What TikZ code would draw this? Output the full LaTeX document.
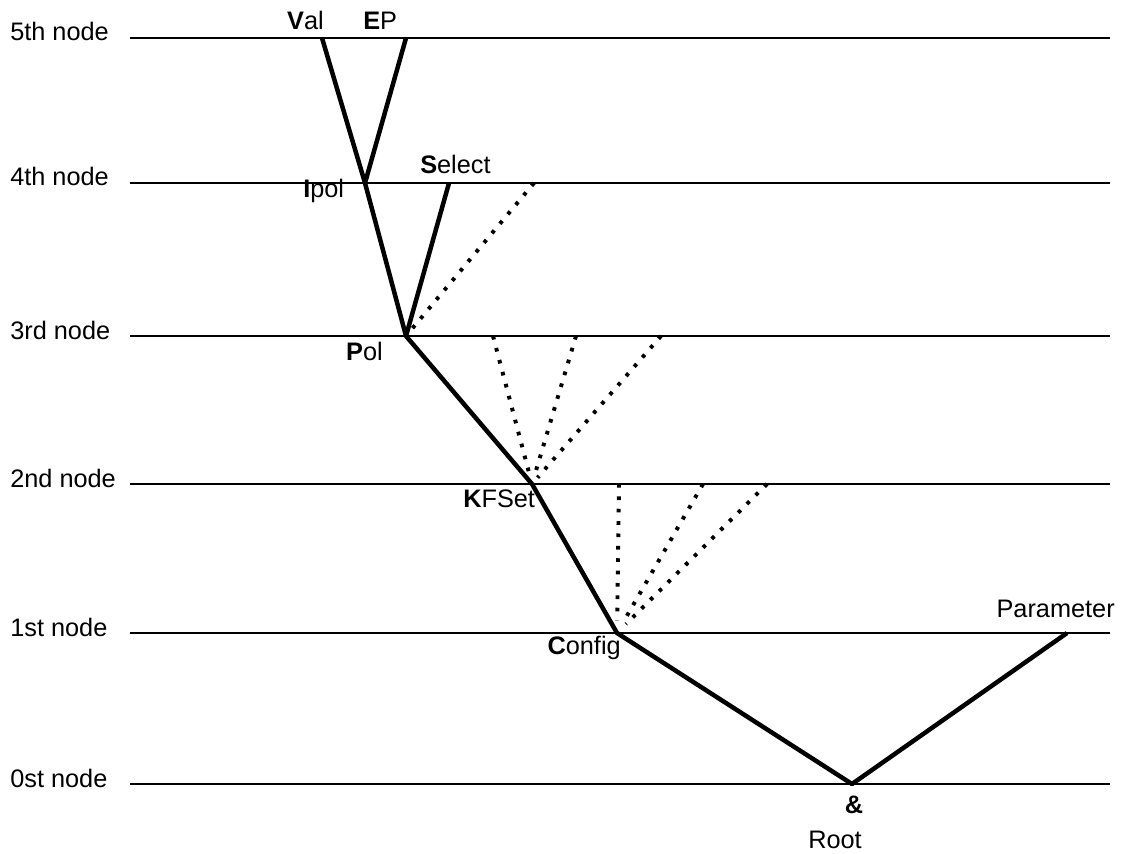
\documentclass[tikz,border=0pt]{standalone}
\usepackage{fontspec}
\setmainfont{Liberation Sans}
\begin{document}
\begin{tikzpicture}[x=0.025cm,y=-0.025cm,
        level/.style={line width=1.3pt},
        branch/.style={line width=3.2pt, line join=round},
        guess/.style={line width=2.8pt, dash pattern=on 2.6pt off 6.2pt},
        lbl/.style={inner sep=0pt, font=\fontsize{18}{21}\selectfont}]
    \useasboundingbox (0,0) rectangle (1128,853);

    % the six levels
    \foreach \n/\y in {5th/38, 4th/183, 3rd/336, 2nd/484, 1st/633, 0st/784}{
        \node[lbl, anchor=base west] (lv\n) at (10,\y+3) {\n\ node};
        \coordinate (a\n) at (130,\y);
        \coordinate (b\n) at (1110,\y);
        \draw[level] (a\n) -- (b\n);
    }

    % branch points
    \coordinate (val) at (322,38);
    \coordinate (ep) at (406,38);
    \coordinate (ipol) at (365,183);
    \coordinate (select) at (449,183);
    \coordinate (pol) at (406,336);
    \coordinate (kfset) at (532,484);
    \coordinate (config) at (617,633);
    \coordinate (root) at (852,784);
    \coordinate (param) at (1067,633);

    % open ends of the dotted branches
    \coordinate (d41) at (534,183);
    \coordinate (d31) at (493,336);
    \coordinate (d32) at (576,336);
    \coordinate (d33) at (661,336);
    \coordinate (d21) at (619,484);
    \coordinate (d22) at (703,484);
    \coordinate (d23) at (767,484);

    \draw[branch] (val) -- (ipol) -- (pol) -- (kfset) -- (config) -- (root) -- (param);
    \draw[branch] (ep) -- (ipol);
    \draw[branch] (select) -- (pol);

    \draw[guess, shorten >=6pt] (d41) -- (pol);
    \foreach \d in {d31,d32,d33}
        \draw[guess, shorten >=6pt] (\d) -- (kfset);
    \foreach \d in {d21,d22,d23}
        \draw[guess, shorten >=9pt] (\d) -- (config);

    \node[lbl, anchor=base east] (vallbl) at (324,30) {\textbf{V}al};
    \node[lbl, anchor=base west] (eplbl) at (363,30) {\textbf{E}P};
    \node[lbl, anchor=base west] (ipollbl) at (303,198) {\textbf{I}pol};
    \node[lbl, anchor=base west] (selectlbl) at (420,174) {\textbf{S}elect};
    \node[lbl, anchor=base east] (pollbl) at (383,360) {\textbf{P}ol};
    \node[lbl, anchor=base west] (kfsetlbl) at (463,507) {\textbf{K}FSet};
    \node[lbl, anchor=base east] (configlbl) at (621,654) {\textbf{C}onfig};
    \node[lbl, anchor=base] (amp) at (854,813) {\textbf{\&}};
    \node[lbl, anchor=base] (rootlbl) at (835,848) {Root};
    \node[lbl, anchor=base east] (paramlbl) at (1115,617) {Parameter};
\end{tikzpicture}
\end{document}
